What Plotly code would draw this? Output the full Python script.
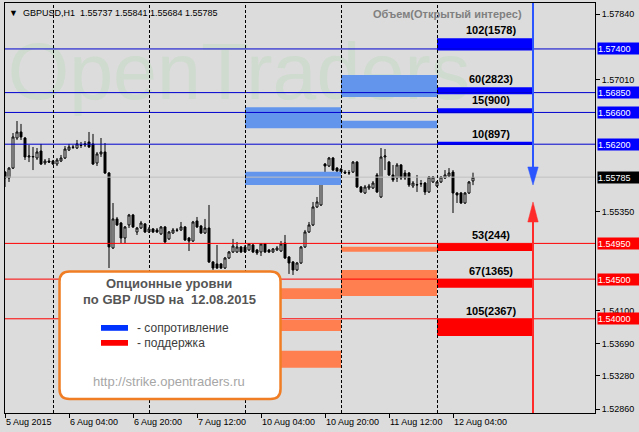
import plotly.graph_objects as go

# ---------------- data ----------------
bar_idx = list(range(118))  # H1 bars, 0 = 5 Aug 2015 12:00
opens = [1.55849, 1.55774, 1.55899, 1.56278, 1.56354, 1.56278, 1.56039, 1.56039, 1.56026, 1.56114,
         1.55963, 1.55988, 1.55988, 1.55950, 1.55988, 1.56026, 1.56127, 1.56165, 1.56152, 1.56190,
         1.56190, 1.56228, 1.56203, 1.55963, 1.56077, 1.56102, 1.55837, 1.54892, 1.55258, 1.55207,
         1.55018, 1.55182, 1.55308, 1.55094, 1.55144, 1.55195, 1.55094, 1.55132, 1.55119, 1.55069,
         1.55157, 1.55006, 1.55081, 1.55119, 1.55119, 1.55157, 1.55018, 1.54980, 1.55233, 1.55169,
         1.55081, 1.55144, 1.54716, 1.54691, 1.54691, 1.54640, 1.54766, 1.54842, 1.54842, 1.54905,
         1.54905, 1.54867, 1.54930, 1.54867, 1.54842, 1.54943, 1.54867, 1.54842, 1.54867, 1.54854,
         1.54955, 1.54779, 1.54716, 1.54615, 1.54703, 1.54905, 1.55094, 1.55182, 1.55409, 1.55434,
         1.55950, 1.55925, 1.56026, 1.55899, 1.55887, 1.55849, 1.55837, 1.55849, 1.55975, 1.55661,
         1.55585, 1.55648, 1.55648, 1.55812, 1.55535, 1.56039, 1.55975, 1.55812, 1.55774, 1.55938,
         1.55837, 1.55837, 1.55673, 1.55686, 1.55699, 1.55711, 1.55598, 1.55724, 1.55673, 1.55724,
         1.55774, 1.55799, 1.55849, 1.55585, 1.55585, 1.55459, 1.55585, 1.55737]
highs = [1.55861, 1.55912, 1.56341, 1.56492, 1.56455, 1.56291, 1.56190, 1.56165, 1.56152, 1.56203,
         1.56013, 1.56026, 1.56001, 1.56026, 1.56064, 1.56177, 1.56203, 1.56190, 1.56253, 1.56228,
         1.56240, 1.56354, 1.56329, 1.56102, 1.56278, 1.56215, 1.55849, 1.55459, 1.55283, 1.55220,
         1.55169, 1.55321, 1.55321, 1.55157, 1.55233, 1.55207, 1.55157, 1.55144, 1.55144, 1.55169,
         1.55169, 1.55106, 1.55144, 1.55144, 1.55220, 1.55169, 1.55031, 1.55233, 1.55283, 1.55182,
         1.55258, 1.55434, 1.54728, 1.54930, 1.54703, 1.54779, 1.54854, 1.55006, 1.54968, 1.54917,
         1.54930, 1.54955, 1.54943, 1.54880, 1.54955, 1.54955, 1.54880, 1.54892, 1.54917, 1.54980,
         1.55056, 1.54791, 1.54728, 1.54716, 1.54917, 1.55119, 1.55220, 1.55472, 1.55535, 1.55837,
         1.55963, 1.56039, 1.56039, 1.55912, 1.55899, 1.55874, 1.55874, 1.55988, 1.55988, 1.55673,
         1.55686, 1.55699, 1.55736, 1.55837, 1.56152, 1.56139, 1.55988, 1.55938, 1.55963, 1.55950,
         1.55874, 1.55849, 1.55736, 1.55812, 1.55749, 1.55724, 1.55799, 1.55799, 1.55736, 1.55799,
         1.55874, 1.55899, 1.55874, 1.55598, 1.55598, 1.55598, 1.55736, 1.55841]
lows = [1.55661, 1.55724, 1.55887, 1.56253, 1.56253, 1.56001, 1.55975, 1.55874, 1.56001, 1.55938,
        1.55938, 1.55963, 1.55938, 1.55925, 1.55975, 1.56013, 1.56114, 1.56139, 1.56139, 1.56152,
        1.56165, 1.56152, 1.55938, 1.55925, 1.56039, 1.55824, 1.54640, 1.54880, 1.55169, 1.54955,
        1.54955, 1.55144, 1.55144, 1.55056, 1.55132, 1.55081, 1.55081, 1.55081, 1.55081, 1.55056,
        1.54955, 1.54993, 1.55069, 1.55094, 1.55106, 1.54980, 1.54854, 1.54968, 1.55144, 1.55069,
        1.55069, 1.54703, 1.54615, 1.54627, 1.54627, 1.54627, 1.54753, 1.54829, 1.54829, 1.54829,
        1.54829, 1.54854, 1.54829, 1.54804, 1.54791, 1.54829, 1.54829, 1.54829, 1.54854, 1.54842,
        1.54753, 1.54565, 1.54552, 1.54602, 1.54691, 1.54892, 1.55081, 1.55169, 1.55396, 1.55421,
        1.55799, 1.55912, 1.55861, 1.55849, 1.55824, 1.55824, 1.55812, 1.55837, 1.55648, 1.55585,
        1.55573, 1.55623, 1.55636, 1.55585, 1.55522, 1.55874, 1.55799, 1.55724, 1.55724, 1.55749,
        1.55749, 1.55661, 1.55648, 1.55598, 1.55661, 1.55560, 1.55585, 1.55711, 1.55661, 1.55711,
        1.55761, 1.55787, 1.55333, 1.55459, 1.55447, 1.55447, 1.55573, 1.55684]
closes = [1.55774, 1.55899, 1.56291, 1.56354, 1.56291, 1.56039, 1.56051, 1.56045, 1.56102, 1.55950,
          1.55988, 1.55975, 1.55950, 1.56001, 1.56026, 1.56139, 1.56165, 1.56160, 1.56203, 1.56185,
          1.56203, 1.56165, 1.55950, 1.56077, 1.56102, 1.55837, 1.54905, 1.55258, 1.55182, 1.55018,
          1.55157, 1.55308, 1.55157, 1.55144, 1.55207, 1.55094, 1.55132, 1.55094, 1.55094, 1.55157,
          1.54968, 1.55094, 1.55119, 1.55115, 1.55157, 1.54993, 1.54980, 1.55220, 1.55157, 1.55081,
          1.55144, 1.54716, 1.54640, 1.54640, 1.54640, 1.54766, 1.54842, 1.54917, 1.54905, 1.54842,
          1.54842, 1.54943, 1.54842, 1.54829, 1.54943, 1.54842, 1.54842, 1.54880, 1.54892, 1.54943,
          1.54766, 1.54703, 1.54615, 1.54703, 1.54905, 1.55094, 1.55182, 1.55409, 1.55472, 1.55812,
          1.55925, 1.56026, 1.55874, 1.55861, 1.55849, 1.55837, 1.55840, 1.55975, 1.55661, 1.55598,
          1.55661, 1.55673, 1.55711, 1.55598, 1.56039, 1.56051, 1.55812, 1.55749, 1.55938, 1.55774,
          1.55774, 1.55686, 1.55711, 1.55690, 1.55703, 1.55598, 1.55787, 1.55787, 1.55724, 1.55787,
          1.55812, 1.55837, 1.55585, 1.55560, 1.55459, 1.55585, 1.55724, 1.55785]

x_tick_idx = [0, 16, 32, 48, 64, 80, 96, 112]
x_tick_text = ["5 Aug 2015", "6 Aug 04:00", "6 Aug 20:00", "7 Aug 12:00",
               "10 Aug 04:00", "10 Aug 20:00", "11 Aug 12:00", "12 Aug 04:00"]
day_sep_idx = [12, 36, 60, 84, 108]

y_tick_vals = [1.57840, 1.57010, 1.55350, 1.54100, 1.53690, 1.53280, 1.52860]

current_price = 1.55785
ohlc_title = "GBPUSD,H1  1.55737 1.55841 1.55684 1.55785"

# today's option levels (12.08.2015)
today_start, today_end = 108, 132
res_levels = [1.57400, 1.56850, 1.56600, 1.56200]
res_labels = ["102(1578)", "60(2823)", "15(900)", "10(897)"]
res_bar_low = [1.57380, 1.56830, 1.56590, 1.56190]
res_bar_high = [1.57534, 1.56917, 1.56652, 1.56232]

sup_levels = [1.54950, 1.54500, 1.54000]
sup_labels = ["53(244)", "67(1365)", "105(2367)"]
sup_bar_low = [1.54854, 1.54392, 1.53784]
sup_bar_high = [1.54950, 1.54500, 1.54000]

# previous days' option zones
prev_res_start = [60, 60, 84, 84]
prev_res_end = [84, 84, 108, 108]
prev_res_low = [1.56400, 1.55686, 1.56795, 1.56400]
prev_res_high = [1.56665, 1.55853, 1.57072, 1.56496]

prev_sup_start = [60, 60, 60, 84, 84]
prev_sup_end = [84, 84, 84, 108, 108]
prev_sup_low = [1.54250, 1.53846, 1.53384, 1.54846, 1.54287]
prev_sup_high = [1.54385, 1.53985, 1.53598, 1.54909, 1.54615]

arrow_idx = 132
res_arrow_base, res_arrow_tip = 1.55913, 1.55686
sup_arrow_base, sup_arrow_tip = 1.55220, 1.55472

# ---------------- styling ----------------
X_RANGE = [0, 147.5]
Y_RANGE = [1.52813, 1.57979]
BG = "#dcdcdc"
FONT = "Liberation Sans"
BLUE_LINE = "#0000d0"
RED_LINE = "#ff0000"
HALF_PX = 0.125  # half a pixel in bar units, keeps 1px lines crisp


def rect_polys(starts, ends, lows_, highs_):
    xs, ys = [], []
    for s, e, lo, hi in zip(starts, ends, lows_, highs_):
        xs += [s, e, e, s, s, None]
        ys += [lo, lo, hi, hi, lo, None]
    return xs, ys


fig = go.Figure()

# watermark
fig.add_trace(go.Scatter(
    x=[58.5], y=[1.57020], mode="text", text=["OpenTraders"],
    textfont=dict(size=79, color="#cfdbcf", family=FONT),
    hoverinfo="skip"))

# option zones
for starts, ends, lo, hi, col in [
    (prev_res_start, prev_res_end, prev_res_low, prev_res_high, "#6495ed"),
    (prev_sup_start, prev_sup_end, prev_sup_low, prev_sup_high, "#ff7f50"),
    ([today_start] * len(res_bar_low), [today_end] * len(res_bar_low), res_bar_low, res_bar_high, "#0000ff"),
    ([today_start] * len(sup_bar_low), [today_end] * len(sup_bar_low), sup_bar_low, sup_bar_high, "#ff0000"),
]:
    xs, ys = rect_polys(starts, ends, lo, hi)
    fig.add_trace(go.Scatter(x=xs, y=ys, mode="lines", fill="toself", fillcolor=col,
                             line=dict(width=0, color=col), hoverinfo="skip"))

# candles
fig.add_trace(go.Candlestick(
    x=bar_idx, open=opens, high=highs, low=lows, close=closes,
    increasing=dict(line=dict(color="black", width=1), fillcolor="white"),
    decreasing=dict(line=dict(color="black", width=1), fillcolor="black"),
    whiskerwidth=0, hoverinfo="skip"))

shapes = []
# current price line
shapes.append(dict(type="line", xref="paper", yref="y", x0=0, x1=1, y0=current_price, y1=current_price,
                   line=dict(color="#c0c0c0", width=1), layer="above"))
for lv in res_levels:
    shapes.append(dict(type="line", xref="paper", yref="y", x0=0, x1=1, y0=lv, y1=lv,
                       line=dict(color=BLUE_LINE, width=1), layer="above"))
for lv in sup_levels:
    shapes.append(dict(type="line", xref="paper", yref="y", x0=0, x1=1, y0=lv, y1=lv,
                       line=dict(color=RED_LINE, width=1), layer="above"))
for d in day_sep_idx:
    shapes.append(dict(type="line", xref="x", yref="paper", x0=d + HALF_PX, x1=d + HALF_PX, y0=0, y1=1,
                       line=dict(color="black", width=1, dash="3px,2px"), layer="above"))

# arrows
ac_b = "#2a55ff"
ac_r = "#ff2a2a"
shapes.append(dict(type="line", xref="x", yref="y", x0=arrow_idx, x1=arrow_idx, y0=Y_RANGE[1], y1=res_arrow_base,
                   line=dict(color=ac_b, width=2), layer="above"))
shapes.append(dict(type="path", xref="x", yref="y",
                   path=f"M {arrow_idx-1.3},{res_arrow_base} L {arrow_idx+1.3},{res_arrow_base} L {arrow_idx},{res_arrow_tip} Z",
                   fillcolor=ac_b, line=dict(color=ac_b, width=0.5), layer="above"))
shapes.append(dict(type="line", xref="x", yref="y", x0=arrow_idx, x1=arrow_idx, y0=Y_RANGE[0], y1=sup_arrow_base,
                   line=dict(color=ac_r, width=2), layer="above"))
shapes.append(dict(type="path", xref="x", yref="y",
                   path=f"M {arrow_idx-1.3},{sup_arrow_base} L {arrow_idx+1.3},{sup_arrow_base} L {arrow_idx},{sup_arrow_tip} Z",
                   fillcolor=ac_r, line=dict(color=ac_r, width=0.5), layer="above"))

# info box (rounded rectangle, paper coords)
bx0, bx1, by0, by1 = 0.0924, 0.467, 0.0341, 0.3451
rx, ry = 0.0170, 0.0244
box_path = (f"M {bx0+rx},{by1} L {bx1-rx},{by1} Q {bx1},{by1} {bx1},{by1-ry} "
            f"L {bx1},{by0+ry} Q {bx1},{by0} {bx1-rx},{by0} L {bx0+rx},{by0} "
            f"Q {bx0},{by0} {bx0},{by0+ry} L {bx0},{by1-ry} Q {bx0},{by1} {bx0+rx},{by1} Z")
shapes.append(dict(type="path", xref="paper", yref="paper", path=box_path,
                   fillcolor="white", line=dict(color="#f07d23", width=2.5), layer="above"))
# legend swatches
shapes.append(dict(type="rect", xref="paper", yref="paper", x0=0.1627, x1=0.2085, y0=0.2005, y1=0.2146,
                   fillcolor="#0033ff", line=dict(width=0), layer="above"))
shapes.append(dict(type="rect", xref="paper", yref="paper", x0=0.1627, x1=0.2085, y0=0.1640, y1=0.1780,
                   fillcolor="#ff0000", line=dict(width=0), layer="above"))

annotations = []
# level labels
for lab, top in zip(res_labels + sup_labels, res_bar_high + sup_bar_high):
    annotations.append(dict(x=121.5, y=top, xref="x", yref="y", text=f"<b>{lab}</b>", showarrow=False,
                            xanchor="center", yanchor="bottom", yshift=0,
                            font=dict(family=FONT, size=11, color="black")))
# right-side price boxes
for lv, bg in [(v, "#0000ff") for v in res_levels] + [(current_price, "black")] + [(v, "#ff0000") for v in sup_levels]:
    annotations.append(dict(x=1, y=lv, xref="paper", yref="y", text=f"{lv:.5f}", showarrow=False,
                            xanchor="left", yanchor="middle", xshift=2, bgcolor=bg, borderpad=0,
                            width=41, height=11, align="left",
                            font=dict(family=FONT, size=9, color="white")))
# header texts
annotations.append(dict(x=0, y=1, xref="paper", yref="paper", text="▼  " + ohlc_title, showarrow=False,
                        xanchor="left", yanchor="top", xshift=2, yshift=-3,
                        font=dict(family=FONT, size=9, color="black")))
annotations.append(dict(x=(447 - 5) / 590, y=1, xref="paper", yref="paper", text="<b>Объем(Открытый интерес)</b>",
                        showarrow=False, xanchor="center", yanchor="top", yshift=-3,
                        font=dict(family=FONT, size=11, color="#808080")))
# info box texts
annotations.append(dict(x=0.278, y=0.317, xref="paper", yref="paper", text="<b>Опционные уровни</b>",
                        showarrow=False, xanchor="center", yanchor="middle",
                        font=dict(family=FONT, size=13, color="#555555")))
annotations.append(dict(x=0.279, y=0.278, xref="paper", yref="paper", text="<b>по GBP /USD на  12.08.2015</b>",
                        showarrow=False, xanchor="center", yanchor="middle",
                        font=dict(family=FONT, size=13, color="#555555")))
annotations.append(dict(x=0.2203, y=0.2073, xref="paper", yref="paper", text="- сопротивление",
                        showarrow=False, xanchor="left", yanchor="middle",
                        font=dict(family=FONT, size=12, color="#3c3c3c")))
annotations.append(dict(x=0.2203, y=0.1712, xref="paper", yref="paper", text="- поддержка",
                        showarrow=False, xanchor="left", yanchor="middle",
                        font=dict(family=FONT, size=12, color="#3c3c3c")))
annotations.append(dict(x=0.278, y=0.078, xref="paper", yref="paper", text="http://strike.opentraders.ru",
                        showarrow=False, xanchor="center", yanchor="middle",
                        font=dict(family=FONT, size=13, color="#a6a6a6")))

fig.update_layout(
    width=639, height=432,
    margin=dict(l=5, r=44, t=3, b=19, pad=0),
    paper_bgcolor=BG, plot_bgcolor=BG,
    showlegend=False,
    shapes=shapes, annotations=annotations,
    xaxis=dict(range=X_RANGE, tickvals=x_tick_idx, ticktext=x_tick_text,
               ticks="outside", ticklen=4, tickcolor="black", ticklabelposition="outside right",
               showgrid=False, zeroline=False, showline=True, linecolor="black", linewidth=1, mirror=True,
               rangeslider=dict(visible=False), fixedrange=True,
               tickfont=dict(family=FONT, size=9, color="black")),
    yaxis=dict(side="right", range=Y_RANGE, tickvals=y_tick_vals, ticktext=[f"{v:.5f}" for v in y_tick_vals],
               ticks="outside", ticklen=4, tickcolor="black",
               showgrid=False, zeroline=False, showline=True, linecolor="black", linewidth=1, mirror=True,
               fixedrange=True, tickfont=dict(family=FONT, size=9, color="black")),
)

fig.write_html("out.html", config={"displayModeBar": False},
               post_script="document.body.style.margin='0';")
